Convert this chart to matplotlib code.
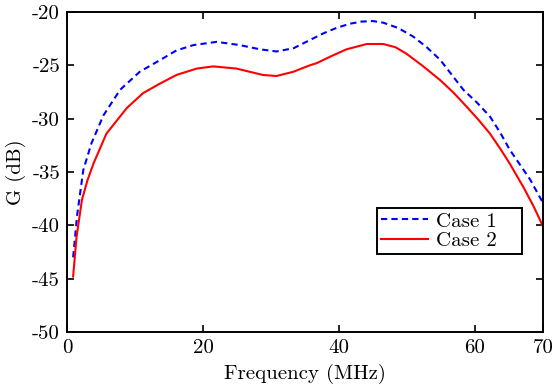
import matplotlib
matplotlib.use('Agg')
import matplotlib.pyplot as plt

plt.rcParams['font.family'] = 'serif'
plt.rcParams['font.serif'] = ['cmr10', 'DejaVu Serif']
plt.rcParams['mathtext.fontset'] = 'cm'
plt.rcParams['axes.formatter.use_mathtext'] = False
plt.rcParams['axes.unicode_minus'] = False

# Case 1 (dashed blue)
freq_1 = [0.9, 1.5, 2.4, 3.6, 5.35, 7.8, 10.7, 13.7, 16.1, 18.6, 22.0, 25.4,
          28.4, 30.8, 33.3, 35.5, 37.7, 39.6, 41.6, 43.3, 45.0, 46.5, 48.7,
          50.9, 52.9, 54.9, 56.6, 58.3, 60.3, 62.2, 63.7, 65.1, 66.6, 68.1, 70.0]
gain_1 = [-43.0, -39.0, -34.8, -32.3, -29.7, -27.3, -25.6, -24.5, -23.6, -23.1,
          -22.8, -23.1, -23.5, -23.7, -23.4, -22.7, -22.0, -21.5, -21.1, -20.9,
          -20.85, -21.0, -21.5, -22.3, -23.3, -24.5, -25.9, -27.3, -28.5, -29.8,
          -31.3, -32.9, -34.3, -35.7, -37.9]

# Case 2 (solid red)
freq_2 = [0.9, 1.4, 2.2, 3.0, 3.9, 5.8, 8.8, 11.2, 13.7, 16.1, 19.1, 21.5, 24.9,
          28.8, 30.8, 33.3, 35.7, 36.7, 39.0, 41.1, 44.1, 46.5, 48.3, 49.9,
          52.4, 54.9, 56.9, 58.8, 60.5, 62.2, 63.7, 65.1, 66.1, 67.1, 68.6, 70.0]
gain_2 = [-44.8, -41.1, -37.6, -35.8, -34.2, -31.4, -29.0, -27.6, -26.7, -25.9,
          -25.3, -25.1, -25.3, -25.9, -26.0, -25.6, -25.0, -24.8, -24.1, -23.5,
          -23.0, -23.0, -23.3, -23.9, -25.1, -26.4, -27.6, -28.9, -30.1, -31.4,
          -32.8, -34.2, -35.3, -36.4, -38.2, -40.1]

x_ticks = [0, 20, 40, 60, 70]
y_ticks = [-50, -45, -40, -35, -30, -25, -20]

fig = plt.figure(figsize=(5.54, 3.85), dpi=100)
ax = fig.add_axes([67 / 554, 1 - 332 / 385, 476 / 554, 320 / 385])

ax.plot(freq_1, gain_1, '--', color='#0000ff', lw=1.5, dashes=(3, 2), label='Case 1   ')
ax.plot(freq_2, gain_2, '-', color='#ff0000', lw=1.5, label='Case 2   ')

ax.set_xlim(0, 70)
ax.set_ylim(-50, -20)
ax.set_xticks(x_ticks)
ax.set_yticks(y_ticks)
ax.tick_params(direction='in', top=True, right=True, labelsize=15, length=5, width=1.2, pad=5)
for s in ax.spines.values():
    s.set_linewidth(1.4)

ax.set_xlabel('Frequency (MHz)', fontsize=15, labelpad=5)
ax.set_ylabel('G (dB)', fontsize=15, labelpad=4)

leg = ax.legend(loc='upper right', bbox_to_anchor=(0.955, 0.388), fontsize=15,
                fancybox=False, framealpha=1, edgecolor='black',
                borderpad=0.2, labelspacing=0.05, handlelength=2.25,
                handletextpad=0.35, borderaxespad=0)
leg.get_frame().set_linewidth(1.4)

fig.savefig('out.png', dpi=100)
